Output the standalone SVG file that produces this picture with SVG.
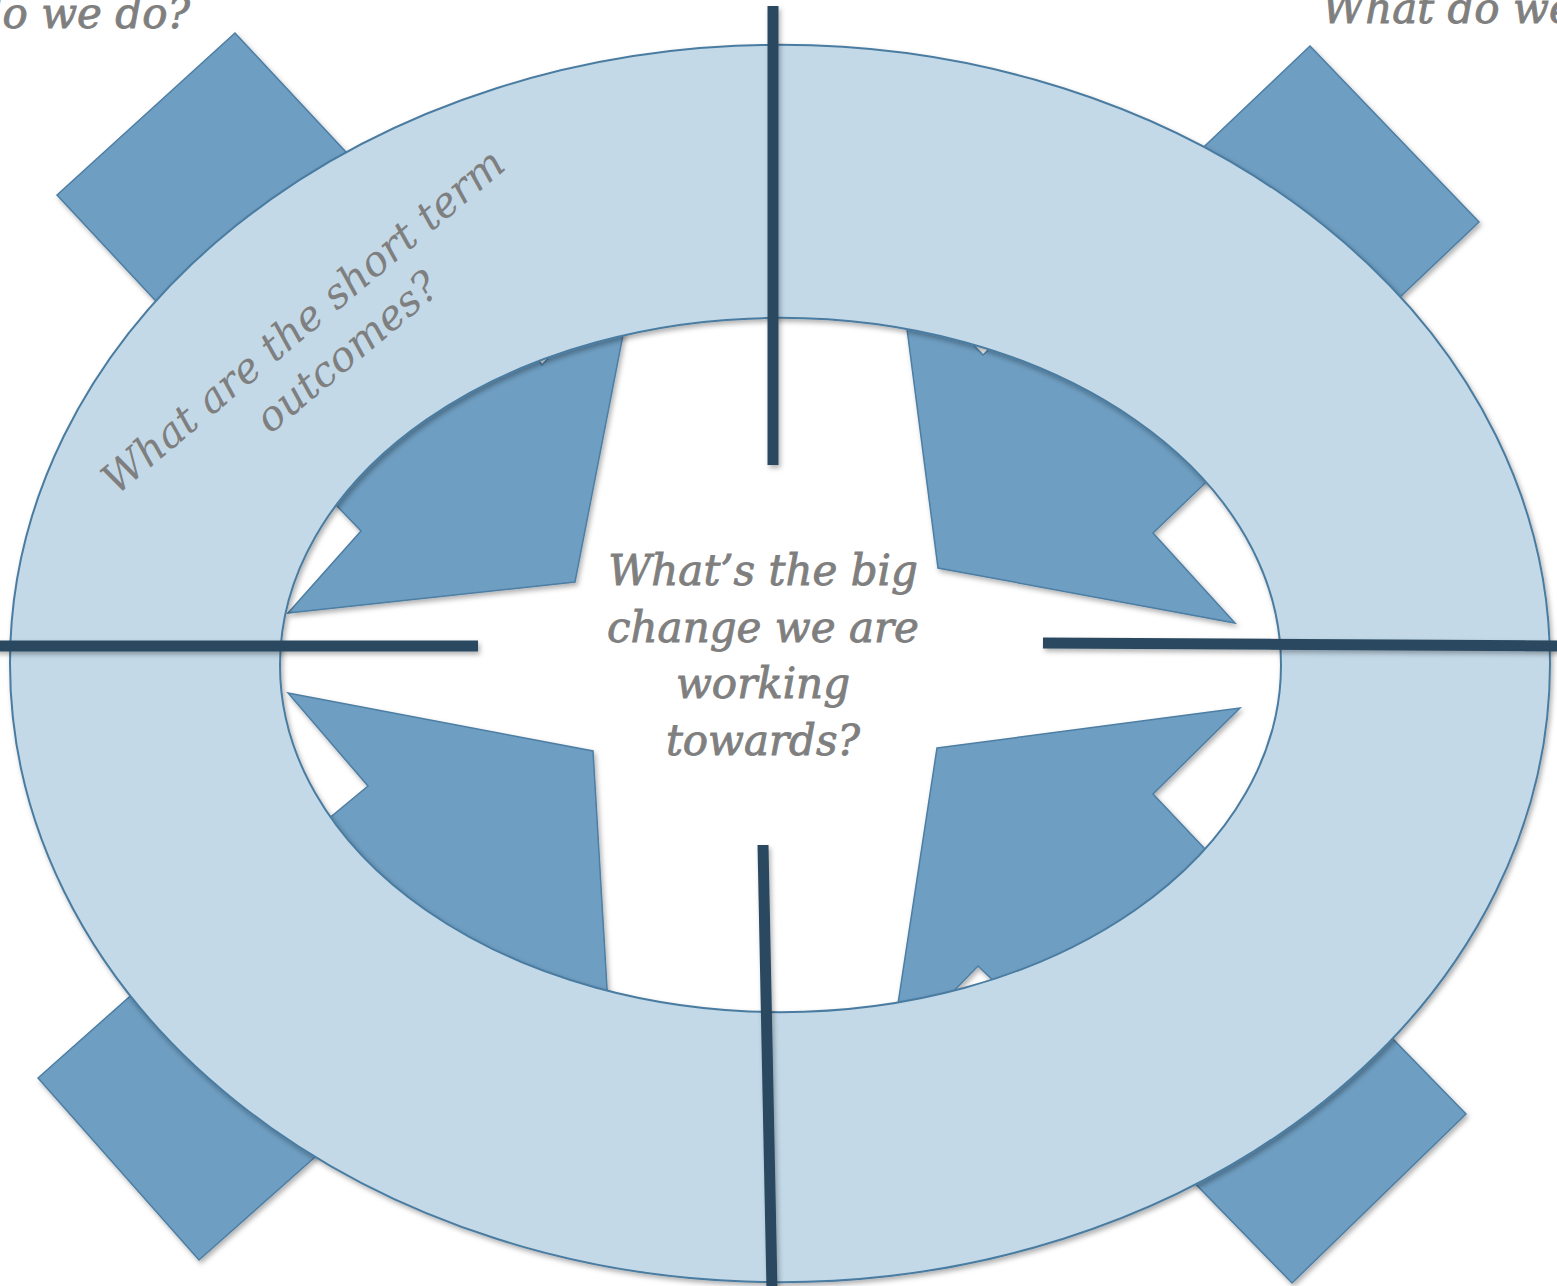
<svg xmlns="http://www.w3.org/2000/svg" width="1557" height="1286" viewBox="0 0 1557 1286">
<defs>
<filter id="sh" filterUnits="userSpaceOnUse" x="-20" y="-20" width="1600" height="1330">
<feDropShadow dx="2" dy="3" stdDeviation="2.5" flood-color="#000" flood-opacity="0.3"/>
</filter>
<style>
.blk{fill:#6e9ec2;stroke:#4d7ea3;stroke-width:1.5;stroke-linejoin:miter;filter:url(#sh)}
.ring{fill:#c3d9e8;fill-rule:evenodd;stroke:#4a7ca0;stroke-width:2;filter:url(#sh)}
.div{stroke:#2b4a60;stroke-width:11;fill:none;filter:url(#sh)}
.t{font-family:"DejaVu Serif","Liberation Serif",serif;font-style:italic;fill:#7f7f7f}
.h{stroke:#7f7f7f;stroke-width:0.9}
</style>
</defs>
<rect width="1557" height="1286" fill="#ffffff"/>
<g id="corner-tl"><polygon class="blk" points="57,195 235,33 400,210 222,372"/></g>
<g id="corner-tr"><polygon class="blk" points="1310,46 1479,222 1299,393 1130,217"/></g>
<g id="corner-bl"><polygon class="blk" points="38,1078 199,1260 449,1038 288,856"/></g>
<g id="corner-br"><polygon class="blk" points="1466,1114 1292,1283 1062,1047 1236,878"/></g>
<g id="inner-tl"><polygon class="blk" points="288,613 361,531 315,483 420,380 525,343 542,365 565,340 632,290 623,335 575,582"/></g>
<g id="inner-tr"><polygon class="blk" points="902,290 958,329 983,355 1008,331 1100,350 1180,410 1225,464 1153,533 1235,623 938,568"/></g>
<g id="inner-bl"><polygon class="blk" points="288,693 593,751 607,988 610,1030 450,1000 330,880 315,830 368,786"/></g>
<g id="inner-br"><polygon class="blk" points="937,748 1240,708 1153,794 1222,867 1150,940 1050,990 1003,990 978,966 950,995 894,1030"/></g>
<g id="ring">
<path class="ring" d="M10,663.5 A770,618.5 0 1,0 1550,663.5 A770,618.5 0 1,0 10,663.5 Z M280,665 A500.5,347 0 1,1 1281,665 A500.5,347 0 1,1 280,665 Z"/>
<text class="t" font-size="41.5" text-anchor="middle" transform="translate(312,332) rotate(-40)"><tspan x="0" y="0">What are the short term</tspan><tspan x="14" y="52">outcomes?</tspan></text>
</g>
<g id="connectors">
<line class="div" x1="773" y1="6" x2="773" y2="465"/>
<line class="div" x1="763" y1="845" x2="772" y2="1290"/>
<line class="div" x1="-5" y1="646" x2="478" y2="646"/>
<line class="div" x1="1043" y1="643" x2="1562" y2="646"/>
</g>
<g id="center">
<text class="t h" font-size="42" text-anchor="middle"><tspan x="763" y="585">What’s the big</tspan><tspan x="763" y="642">change we are</tspan><tspan x="763" y="698">working</tspan><tspan x="763" y="755">towards?</tspan></text>
</g>
<g id="label-tl"><text class="t h" font-size="42" text-anchor="end" x="190" y="28">do we do?</text></g>
<g id="label-tr"><text class="t h" font-size="42" x="1322" y="23">What do we</text></g>
</svg>
